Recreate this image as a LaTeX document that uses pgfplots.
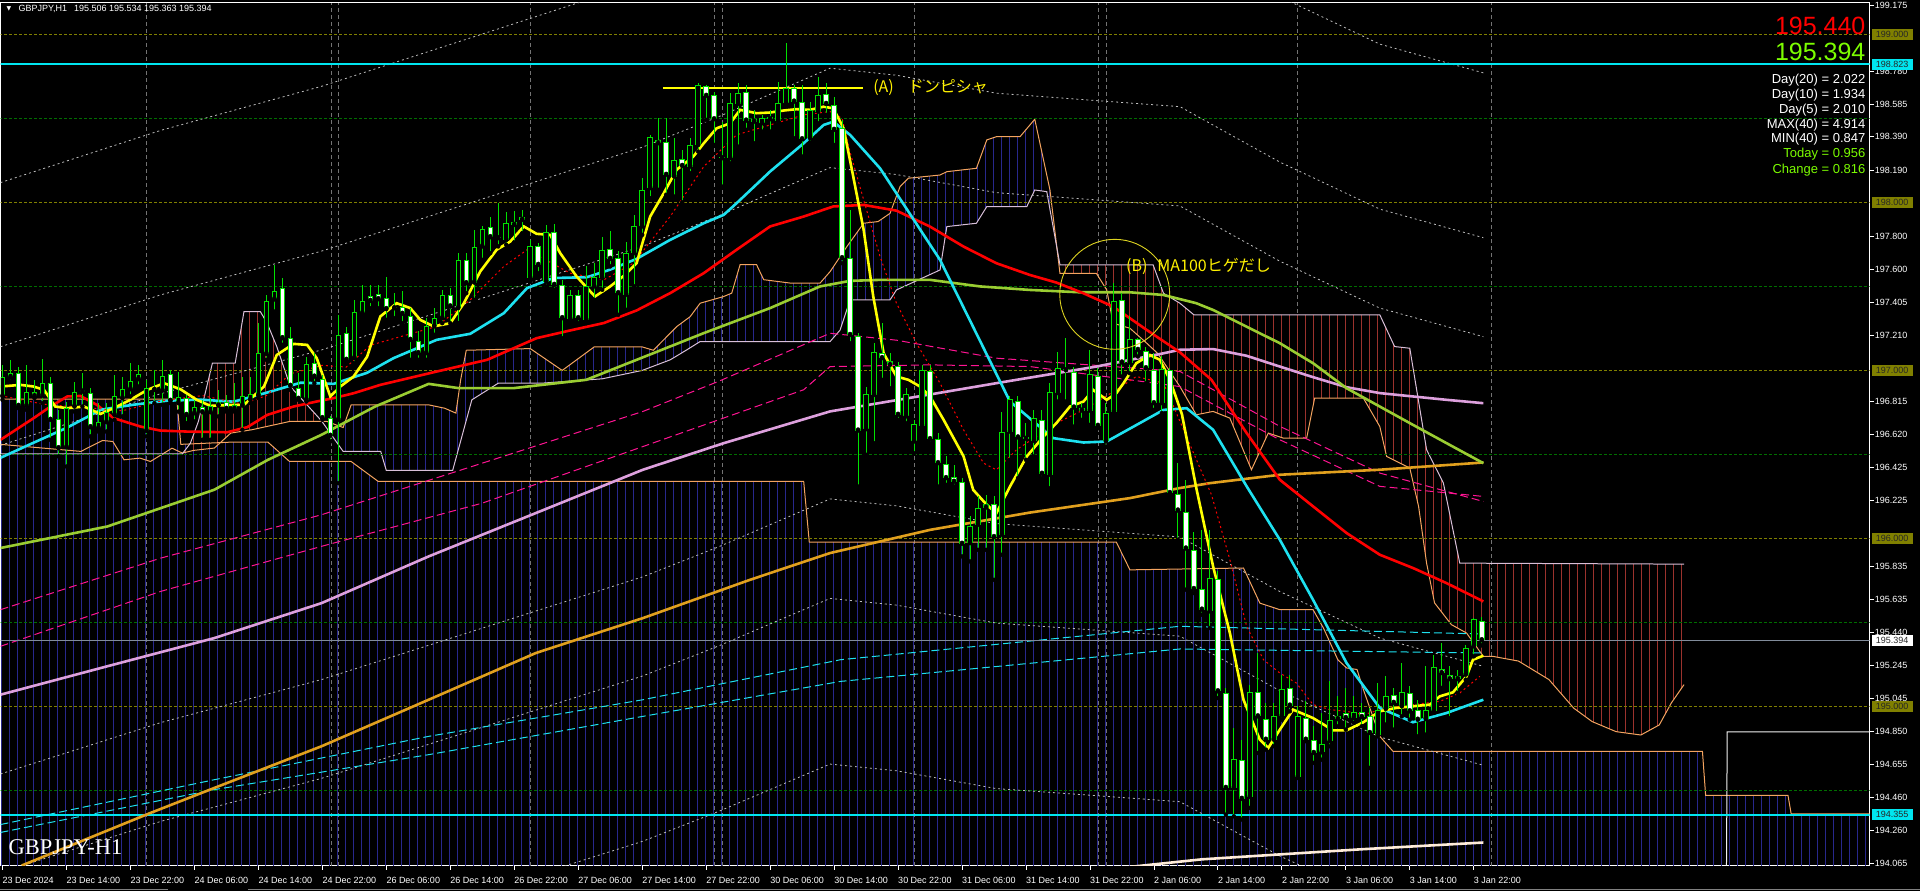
\documentclass[border=0pt]{standalone}
\usepackage{fontspec}
\setmainfont{Liberation Sans}
\newfontfamily\jpfont{Noto Sans CJK JP}
\newfontfamily\seriffont{Liberation Serif}
\newfontfamily\djvfont{DejaVu Sans}
\usepackage{pgfplots}
\usepackage{pgfplotstable}
\pgfplotsset{compat=1.18}
\usetikzlibrary{patterns.meta}

\definecolor{cgreen}{RGB}{0,225,0}
\definecolor{mayellow}{RGB}{255,255,0}
\definecolor{macyan}{RGB}{30,225,240}
\definecolor{mared}{RGB}{255,0,0}
\definecolor{mayg}{RGB}{154,205,50}
\definecolor{maplum}{RGB}{221,160,221}
\definecolor{maorange}{RGB}{225,160,30}
\definecolor{spanA}{RGB}{244,164,96}
\definecolor{spanB}{RGB}{216,191,216}
\definecolor{kumoblue}{RGB}{40,40,140}
\definecolor{kumored}{RGB}{155,50,45}
\definecolor{olivegrid}{RGB}{128,128,0}
\definecolor{greengrid}{RGB}{0,110,0}
\definecolor{lawn}{RGB}{124,252,0}
\definecolor{magdash}{RGB}{255,20,147}
\definecolor{sepgray}{RGB}{115,115,115}
\definecolor{pricegray}{RGB}{130,140,155}
\definecolor{hcyan}{RGB}{0,230,240}
\definecolor{bbgray}{RGB}{190,190,190}

\pgfplotstableread{
i o h l c
0 196.845 197.033 196.825 196.963
1 196.960 197.063 196.934 196.987
2 196.987 197.023 196.775 196.789
3 196.789 197.033 196.765 196.874
4 196.874 196.944 196.835 196.848
5 196.850 197.067 196.805 196.924
6 196.924 196.963 196.587 196.706
7 196.710 196.765 196.488 196.537
8 196.543 196.815 196.428 196.775
9 196.785 196.934 196.755 196.874
10 196.874 196.983 196.785 196.884
11 196.868 196.894 196.607 196.662
12 196.656 196.805 196.636 196.692
13 196.692 196.805 196.636 196.755
14 196.735 196.973 196.706 196.848
15 196.835 196.963 196.726 196.888
16 196.888 197.043 196.845 196.940
17 196.948 197.033 196.904 196.977
18 196.640 196.944 196.607 196.894
19 196.884 197.003 196.805 196.894
20 196.880 197.063 196.795 196.969
21 196.979 197.003 196.805 196.819
22 196.805 196.993 196.755 196.839
23 196.835 196.854 196.686 196.735
24 196.745 196.825 196.696 196.785
25 196.781 196.825 196.587 196.751
26 196.751 196.835 196.587 196.791
27 196.791 196.884 196.726 196.811
28 196.811 196.854 196.755 196.771
29 196.771 196.924 196.755 196.795
30 196.791 196.963 196.646 196.845
31 196.825 196.963 196.805 196.858
32 196.850 197.281 196.835 197.106
33 197.098 197.449 197.063 197.416
34 197.423 197.628 197.350 197.474
35 197.489 197.548 197.152 197.192
36 197.192 197.257 196.884 196.908
37 196.894 196.983 196.825 196.831
38 196.825 197.082 196.815 197.037
39 197.043 197.102 196.924 196.963
40 196.948 196.973 196.706 196.716
41 196.716 196.726 196.577 196.611
42 196.706 197.330 196.329 197.209
43 197.221 197.261 197.053 197.063
44 197.073 197.420 197.043 197.346
45 197.340 197.509 197.320 197.414
46 197.445 197.509 197.370 197.414
47 197.454 197.509 197.370 197.424
48 197.434 197.555 197.301 197.365
49 197.370 197.460 197.311 197.380
50 197.377 197.470 197.281 197.337
51 197.321 197.371 197.063 197.182
52 197.178 197.232 197.063 197.103
53 197.103 197.311 197.063 197.262
54 197.262 197.371 197.212 197.311
55 197.311 197.480 197.281 197.450
56 197.450 197.490 197.281 197.381
57 197.371 197.698 197.282 197.658
58 197.658 197.698 197.460 197.519
59 197.523 197.837 197.420 197.733
60 197.738 197.857 197.658 197.841
61 197.853 197.916 197.698 197.793
62 197.787 197.999 197.738 197.790
63 197.777 197.940 197.748 197.876
64 197.866 197.946 197.761 197.886
65 197.896 197.956 197.817 197.912
66 197.549 197.777 197.529 197.738
67 197.742 197.757 197.579 197.628
68 197.529 197.866 197.500 197.821
69 197.821 197.872 197.480 197.509
70 197.509 197.539 197.192 197.311
71 197.305 197.480 197.291 197.450
72 197.450 197.480 197.282 197.311
73 197.301 197.619 197.282 197.500
74 197.500 197.638 197.420 197.559
75 197.549 197.797 197.480 197.718
76 197.722 197.827 197.619 197.664
77 197.668 197.708 197.331 197.460
78 197.450 197.767 197.361 197.698
79 197.698 197.926 197.500 197.861
80 197.857 198.144 197.807 198.075
81 198.085 198.402 198.025 198.392
82 198.372 198.501 198.075 198.352
83 198.362 198.501 198.045 198.164
84 198.154 198.382 198.035 198.253
85 198.257 198.313 198.000 198.217
86 198.213 198.382 198.174 198.342
87 198.342 198.709 198.303 198.699
88 198.693 198.699 198.491 198.634
89 198.640 198.660 198.342 198.495
90 198.263 198.481 198.094 198.273
91 198.263 198.650 198.233 198.590
92 198.586 198.709 198.332 198.650
93 198.660 198.699 198.432 198.487
94 198.481 198.551 198.352 198.495
95 198.471 198.521 198.422 198.501
96 198.495 198.551 198.422 198.507
97 198.487 198.719 198.471 198.594
98 198.590 198.950 198.580 198.679
99 198.679 198.699 198.382 198.600
100 198.600 198.699 198.273 198.376
101 198.382 198.600 198.356 198.551
102 198.540 198.749 198.471 198.640
103 198.646 198.709 198.521 198.586
104 198.580 198.630 198.342 198.432
105 198.442 198.491 197.638 197.668
106 197.668 197.955 197.162 197.211
107 197.202 197.221 196.309 196.642
108 196.650 196.904 196.498 196.860
109 196.854 197.162 196.567 197.112
110 197.102 197.281 196.944 197.073
111 197.059 197.102 196.894 197.033
112 197.027 197.053 196.706 196.736
113 196.726 196.894 196.686 196.860
114 196.577 196.706 196.507 196.682
115 196.670 197.033 196.666 197.003
116 196.997 197.033 196.567 196.591
117 196.591 196.626 196.309 196.448
118 196.442 196.488 196.319 196.359
119 196.365 196.438 196.309 196.337
120 196.333 196.359 195.893 195.968
121 195.972 196.131 195.863 196.075
122 196.081 196.250 195.932 196.180
123 196.204 196.260 195.932 196.184
124 196.206 196.250 195.754 196.008
125 196.022 196.755 195.903 196.636
126 196.636 196.845 196.468 196.829
127 196.821 196.845 196.359 196.601
128 196.603 196.686 196.468 196.593
129 196.581 196.765 196.488 196.716
130 196.702 196.765 196.359 196.385
131 196.379 196.924 196.299 196.874
132 196.865 197.112 196.815 197.013
133 197.001 197.192 196.815 197.003
134 196.993 197.023 196.666 196.779
135 196.775 196.805 196.706 196.761
136 196.761 197.122 196.676 196.977
137 196.968 197.013 196.656 196.670
138 196.577 196.805 196.547 196.745
139 196.755 197.519 196.736 197.416
140 197.420 197.460 196.964 197.047
141 197.047 197.321 196.983 197.186
142 197.186 197.192 197.083 197.122
143 197.116 197.142 196.924 197.013
144 197.003 197.102 196.765 196.805
145 196.805 197.083 196.746 197.007
146 197.003 197.013 196.260 196.270
147 196.266 196.448 195.992 196.166
148 196.160 196.349 195.695 195.940
149 195.933 196.041 195.675 195.699
150 195.699 196.052 195.546 195.576
151 195.566 196.052 195.467 195.764
152 195.758 195.804 195.050 195.090
153 195.080 195.110 194.356 194.515
154 194.515 194.872 194.346 194.688
155 194.684 194.802 194.327 194.450
156 194.461 195.130 194.396 195.084
157 195.084 195.318 194.723 194.941
158 194.926 195.021 194.743 194.802
159 194.802 195.021 194.763 194.941
160 194.945 195.189 194.921 195.104
161 195.110 195.189 194.971 195.005
162 194.580 195.001 194.574 194.941
163 194.931 195.030 194.793 194.802
164 194.802 194.882 194.664 194.723
165 194.727 194.961 194.683 194.779
166 194.793 195.149 194.763 194.917
167 194.925 195.060 194.882 194.945
168 194.961 195.110 194.862 194.931
169 194.931 195.060 194.902 194.965
170 194.965 195.021 194.882 194.937
171 194.941 194.991 194.634 194.842
172 194.832 195.140 194.822 194.977
173 194.985 195.179 194.892 195.064
174 195.070 195.110 194.862 195.021
175 195.001 195.258 194.941 195.084
176 195.080 195.120 194.921 194.971
177 194.977 195.040 194.822 194.921
178 194.925 195.239 194.832 194.977
179 194.971 195.308 194.961 195.235
180 195.223 195.377 195.110 195.199
181 195.189 195.239 194.931 195.163
182 195.163 195.219 195.080 195.183
183 195.189 195.368 195.159 195.348
184 195.358 195.526 195.298 195.520
185 195.506 195.534 195.363 195.394
}\candles

\pgfplotsset{
  candleeb/.style={only marks, mark=none, forget plot},
  bb/.style={bbgray, line width=0.8pt, dash pattern=on 2pt off 3pt, forget plot},
  ma/.style={line width=2.6pt, forget plot},
  bluestripes/.style={draw=none, forget plot, pattern={Lines[angle=90,distance=8pt,line width=1pt,xshift=2pt]}, pattern color=kumoblue},
  redstripes/.style={draw=none, forget plot, pattern={Lines[angle=90,distance=8pt,line width=1pt,xshift=2pt]}, pattern color=kumored},
}
\tikzset{pbox/.style={anchor=west, xshift=2pt, inner sep=0pt, minimum width=41pt, minimum height=11pt, font=\fontsize{9}{10}\selectfont, text=black!85}}

\begin{document}
\begin{tikzpicture}[x=1pt,y=1pt]
\fill[black] (0,0) rectangle (1920,891);
\begin{axis}[
  at={(0pt,25pt)}, anchor=south west,
  scale only axis, width=1870pt, height=863pt,
  xmin=-0.25, xmax=233.5, ymin=194.053, ymax=199.187,
  clip mode=individual,
  axis background/.style={fill=black},
  axis line style={white, line width=1pt},
  tick align=outside, major tick length=4pt,
  tick style={white, line width=0.8pt},
  xtick pos=bottom, ytick pos=right, yticklabel pos=right,
  xtick={0,8,...,184},
  xticklabels={23 Dec 2024, 23 Dec 14:00, 23 Dec 22:00, 24 Dec 06:00, 24 Dec 14:00, 24 Dec 22:00, 26 Dec 06:00, 26 Dec 14:00, 26 Dec 22:00, 27 Dec 06:00, 27 Dec 14:00, 27 Dec 22:00, 30 Dec 06:00, 30 Dec 14:00, 30 Dec 22:00, 31 Dec 06:00, 31 Dec 14:00, 31 Dec 22:00, 2 Jan 06:00, 2 Jan 14:00, 2 Jan 22:00, 3 Jan 06:00, 3 Jan 14:00, 3 Jan 22:00},
  xticklabel style={white, font=\fontsize{9}{10}\selectfont, anchor=north west, inner sep=0pt, xshift=0pt, yshift=-7pt},
  ytick={194.065,194.260,194.460,194.655,194.850,195.045,195.245,195.440,195.635,195.835,196.225,196.425,196.620,196.815,197.210,197.405,197.600,197.800,198.190,198.390,198.585,198.780,199.175},
  yticklabel style={white, font=\fontsize{9}{10}\selectfont, anchor=west, inner sep=0pt, xshift=1pt, /pgf/number format/.cd, fixed, fixed zerofill, precision=3, assume math mode=true},
  extra x ticks={18,41.15,42,66,89,90,114,137,138,162,186.25},
  extra x tick labels={},
  extra x tick style={grid=major, major grid style={sepgray, line width=0.7pt, dash pattern=on 4pt off 3pt}, major tick length=0pt},
  unbounded coords=jump,
]
% deep cloud (blue stripes to bottom)
\addplot[bluestripes] coordinates {
(-0.25,196.829) (21.8,196.829) (22.3,196.56) (28.5,196.573) (33.2,196.573) (35.9,196.458) (43.6,196.458) (47,196.339) (100.2,196.339) (100.9,195.978) (139.3,195.978) (141,195.813) (155.2,195.824) (157.25,195.615) (159.75,195.576) (163.9,195.576) (165.2,195.467) (167,195.278) (168.1,195.229) (169.4,195.22) (170.2,195.1) (172.25,194.822) (173.9,194.733) (212.6,194.733) (213,194.47) (223.3,194.47) (223.7,194.36) (233.5,194.36) (233.5,193.9) (-0.25,193.9)};
% near cloud: red (left)
\addplot[redstripes] coordinates {
(22.5,196.504) (23.5,196.567) (24.5,196.696) (26.25,197.043) (29.1,197.043) (30.2,197.35) (32.25,197.35) (33.1,197.281) (34.3,197.142) (36,196.904) (39.9,196.70)
(35.9,196.696) (31.2,196.647) (28.55,196.627) (26.5,196.538) (23.9,196.524) (22.5,196.508)};
% near cloud: blue (middle)
\addplot[bluestripes] coordinates {
(40,196.696) (40.6,196.696) (42.6,196.66) (43.6,196.795) (53.3,196.795) (55.3,196.775) (56.7,196.746) (57.3,196.944) (58,197.12) (66,197.13) (70,197.00) (74,197.14) (80,197.14) (81.4,197.12) (84.3,197.26) (86,197.32) (87.25,197.40) (90.2,197.44) (91.2,197.46) (92.25,197.63) (94.3,197.63) (95.2,197.54) (98.5,197.52) (102.25,197.52) (103.5,197.588) (105.6,197.737) (107.7,197.876) (109.5,197.886) (111,197.935) (112.25,198.094) (113.3,198.144) (117.25,198.163) (118.1,198.183) (121.8,198.203) (123.1,198.372) (124.3,198.391) (127.25,198.391) (129.1,198.495) (131,198.074) (131.9,197.70)
(130.6,198.064) (129.1,198.074) (128.1,197.975) (123.1,197.975) (121.8,197.876) (118.1,197.856) (117.25,197.598) (111.8,197.479) (111,197.42) (106,197.42) (104.75,197.24) (103.5,197.172) (87.25,197.172) (85.6,197.123) (83.5,197.063) (80,197.0) (75,196.95) (67.4,196.924) (62,196.924) (58.7,196.825) (56.3,196.405) (48,196.405) (47.3,196.518) (42.6,196.518) (40,196.69)};
% near cloud: red (right)
\addplot[redstripes] coordinates {
(132,197.694) (132.25,197.628) (143.9,197.628) (145.2,197.459) (147.25,197.40) (149,197.331) (172.25,197.331) (174.1,197.142) (176,197.132) (178.1,196.528) (180.2,196.33) (182.25,195.853) (210.3,195.847)
(210.3,195.13) (208.7,195.02) (207.2,194.89) (204.9,194.83) (201.8,194.85) (198.8,194.91) (196.5,194.99) (193.4,195.16) (189.6,195.27) (186.4,195.298) (185.2,195.298) (183.1,195.437) (181.2,195.487) (179.1,195.616) (178.1,195.853) (177.1,196.191) (176,196.419) (173.1,196.488) (172.25,196.666) (170.2,196.835) (164.1,196.835) (163.1,196.597) (160.2,196.597) (158.3,196.627) (156.2,196.409) (153.5,196.716) (151.4,196.756) (149.3,196.736) (147.25,196.904) (144.5,197.10) (143.1,197.162) (141,197.251) (138.9,197.281) (138.1,197.479) (136.8,197.578) (132.25,197.578) (132,197.677)};
% span lines
\addplot[spanA, line width=1pt, forget plot] coordinates {
(-0.25,196.829) (21.8,196.829) (22.3,196.56) (28.5,196.573) (33.2,196.573) (35.9,196.458) (43.6,196.458) (47,196.339) (100.2,196.339) (100.9,195.978) (139.3,195.978) (141,195.813) (155.2,195.824) (157.25,195.615) (159.75,195.576) (163.9,195.576) (165.2,195.467) (167,195.278) (168.1,195.229) (169.4,195.22) (170.2,195.1) (172.25,194.822) (173.9,194.733) (212.6,194.733) (213,194.47) (223.3,194.47) (223.7,194.36) (233.5,194.36)};
\addplot[white!90!gray, line width=1pt, forget plot] coordinates {(215.6,194.0) (215.7,194.849) (233.5,194.849)};
\addplot[spanA, line width=1pt, forget plot] coordinates {
(-0.25,196.56) (9.8,196.518) (12.5,196.583) (13.8,196.577) (15.2,196.468) (17.2,196.478) (18.5,196.458) (21.2,196.537) (22.5,196.508) (23.9,196.524) (26.5,196.538) (28.55,196.627) (31.2,196.647) (35.9,196.696) (40.6,196.696) (42.6,196.66) (43.6,196.795) (53.3,196.795) (55.3,196.775) (56.7,196.746) (57.3,196.944) (58,197.12) (66,197.13) (70,197.00) (74,197.14) (80,197.14) (81.4,197.12) (84.3,197.26) (86,197.32) (87.25,197.40) (90.2,197.44) (91.2,197.46) (92.25,197.63) (94.3,197.63) (95.2,197.54) (98.5,197.52) (102.25,197.52) (103.5,197.588) (105.6,197.737) (107.7,197.876) (109.5,197.886) (111,197.935) (112.25,198.094) (113.3,198.144) (117.25,198.163) (118.1,198.183) (121.8,198.203) (123.1,198.372) (124.3,198.391) (127.25,198.391) (129.1,198.495) (131,198.074) (132.25,197.578) (136.8,197.578) (138.1,197.479) (138.9,197.281) (141,197.251) (143.1,197.162) (144.5,197.10) (147.25,196.904) (149.3,196.736) (151.4,196.756) (153.5,196.716) (156.2,196.409) (158.3,196.627) (160.2,196.597) (163.1,196.597) (164.1,196.835) (170.2,196.835) (172.25,196.666) (173.1,196.488) (176,196.419) (177.1,196.191) (178.1,195.853) (179.1,195.616) (181.2,195.487) (183.1,195.437) (185.2,195.298) (186.4,195.298) (189.6,195.27) (193.4,195.16) (196.5,194.99) (198.8,194.91) (201.8,194.85) (204.9,194.83) (207.2,194.89) (208.7,195.02) (210.3,195.13)};
\addplot[spanB, line width=1pt, forget plot] coordinates {
(-0.25,196.504) (22.5,196.504) (23.5,196.567) (24.5,196.696) (26.25,197.043) (29.1,197.043) (30.2,197.35) (32.25,197.35) (33.1,197.281) (34.3,197.142) (36,196.904) (39.9,196.70) (42.6,196.518) (47.3,196.518) (48,196.405) (56.3,196.405) (58.7,196.825) (62,196.924) (67.4,196.924) (75,196.95) (80,197.0) (83.5,197.063) (85.6,197.123) (87.25,197.172) (103.5,197.172) (104.75,197.24) (106,197.42) (111,197.42) (111.8,197.479) (117.25,197.598) (118.1,197.856) (121.8,197.876) (123.1,197.975) (128.1,197.975) (129.1,198.074) (130.6,198.064) (132.25,197.628) (143.9,197.628) (145.2,197.459) (147.25,197.40) (149,197.331) (172.25,197.331) (174.1,197.142) (176,197.132) (178.1,196.528) (180.2,196.33) (182.25,195.853) (210.3,195.847)};
% grid levels
\addplot[olivegrid, line width=0.8pt, dash pattern=on 3pt off 2pt, forget plot] coordinates {(-1,199)(240,199) (120,nan) (-1,198)(240,198) (120,nan) (-1,197)(240,197) (120,nan) (-1,196)(240,196) (120,nan) (-1,195)(240,195)};
\addplot[greengrid, line width=0.8pt, dash pattern=on 3pt off 2pt, forget plot] coordinates {(-1,198.5)(240,198.5) (120,nan) (-1,197.5)(240,197.5) (120,nan) (-1,196.5)(240,196.5) (120,nan) (-1,195.5)(240,195.5) (120,nan) (-1,194.5)(240,194.5)};
% envelope bands (dotted)
\addplot[bb] coordinates {(-0.25,196.554) (19.8,196.862) (39.9,197.122) (60,197.430) (80.1,197.740) (89.5,197.919) (103.5,198.207) (111.8,198.166) (124.3,198.058) (136.8,198.015) (147.25,197.979) (159.75,197.650) (172.25,197.371) (185.2,197.201)};
\addplot[bb] coordinates {(-0.25,194.598) (19.8,194.904) (39.9,195.160) (60,195.466) (80.1,195.772) (89.5,195.949) (103.5,196.235) (111.8,196.194) (124.3,196.088) (136.8,196.045) (147.25,196.009) (159.75,195.684) (172.25,195.407) (185.2,195.239)};
\addplot[bb] coordinates {(-0.25,197.141) (19.8,197.450) (39.9,197.710) (60,198.020) (80.1,198.330) (89.5,198.509) (103.5,198.799) (111.8,198.757) (124.3,198.650) (136.8,198.606) (147.25,198.570) (159.75,198.240) (172.25,197.960) (185.2,197.790)};
\addplot[bb] coordinates {(-0.25,194.011) (19.8,194.316) (39.9,194.572) (60,194.876) (80.1,195.182) (89.5,195.359) (103.5,195.643) (111.8,195.603) (124.3,195.496) (136.8,195.454) (147.25,195.418) (159.75,195.094) (172.25,194.818) (185.2,194.650)};
\addplot[bb] coordinates {(-0.25,198.118) (19.8,198.429) (39.9,198.691) (60,199.002) (80.1,199.314) (89.5,199.494) (103.5,199.785) (111.8,199.743) (124.3,199.635) (136.8,199.591) (147.25,199.555) (159.75,199.224) (172.25,198.942) (185.2,198.771)};
\addplot[bb] coordinates {(39.9,193.591) (60,193.894) (80.1,194.198) (89.5,194.374) (103.5,194.657) (111.8,194.617) (124.3,194.511) (136.8,194.469) (147.25,194.433) (159.75,194.110) (172.25,193.836) (185.2,193.669)};
% magenta dashed
\addplot[magdash, line width=1pt, dash pattern=on 8pt off 4pt, forget plot] coordinates {(-0.25,195.576) (19.8,195.883) (39.9,196.141) (60,196.448) (80.1,196.756) (89.5,196.934) (103.5,197.221) (111.8,197.18) (124.3,197.073) (136.8,197.03) (147.25,196.994) (159.75,196.667) (172.25,196.389) (185.2,196.22)};
\addplot[magdash, line width=1pt, dash pattern=on 8pt off 4pt, forget plot] coordinates {(-0.25,195.358) (19.8,195.685) (39.9,195.953) (60,196.21) (80.1,196.547) (100.2,196.885) (103.5,197.023) (116,197.033) (128.5,197.023) (141,196.944) (147.25,196.904) (159.75,196.587) (172.25,196.31) (185.2,196.25)};
% cyan dashed
\addplot[macyan, line width=1pt, dash pattern=on 8pt off 4pt, forget plot] coordinates {(-0.25,194.297) (26.5,194.564) (53.3,194.822) (80.1,195.04) (104.8,195.278) (147.25,195.477) (185.2,195.431)};
\addplot[macyan, line width=1pt, dash pattern=on 8pt off 4pt, forget plot] coordinates {(-0.25,194.25) (26.5,194.505) (53.3,194.713) (80.1,194.941) (104.8,195.149) (147.25,195.342) (185.2,195.318)};
% horizontal lines
\addplot[hcyan, line width=2pt, forget plot] coordinates {(-1,198.823)(240,198.823)};
\addplot[hcyan, line width=2pt, forget plot] coordinates {(-1,194.355)(240,194.355)};
\addplot[pricegray, line width=1pt, forget plot] coordinates {(-1,195.394)(240,195.394)};
% long MAs
\addplot[ma, white!85!orange] coordinates {(138,194.03) (150,194.09) (160,194.12) (170,194.15) (185.2,194.19)};
\addplot[ma, maorange] coordinates {(2.4,194.053) (18.5,194.366) (26.5,194.515) (39.9,194.763) (53.3,195.04) (66.7,195.318) (80.1,195.526) (93.5,195.754) (103.5,195.913) (116,196.051) (128.5,196.154) (141,196.24) (147.25,196.30) (151,196.329) (159.75,196.379) (172.25,196.409) (185.2,196.452)};
\addplot[ma, maplum] coordinates {(-0.25,195.07) (13.1,195.239) (26.5,195.407) (39.9,195.615) (53.3,195.893) (66.7,196.151) (80.1,196.409) (90.2,196.567) (103.5,196.756) (124.3,196.924) (136.8,197.023) (145.2,197.102) (147.25,197.123) (151.4,197.127) (155.6,197.087) (159.75,197.023) (163.9,196.96) (168.1,196.9) (172.25,196.865) (176.4,196.845) (180.6,196.825) (185.2,196.805)};
\addplot[ma, mayg] coordinates {(-0.25,195.943) (13.1,196.071) (26.5,196.29) (33.2,196.468) (39.9,196.617) (46.6,196.785) (53.3,196.92) (57,196.895) (64,196.895) (73,196.944) (79.3,197.063) (87.7,197.222) (96,197.371) (102.25,197.5) (106,197.533) (109.75,197.539) (116,197.539) (122.25,197.50) (128.5,197.479) (134.75,197.465) (141,197.465) (145.2,197.449) (149.3,197.40) (151.4,197.36) (155.6,197.26) (159.75,197.162) (163.9,197.043) (168.1,196.894) (172.25,196.785) (176.4,196.676) (180.6,196.567) (185.2,196.448)};
\addplot[ma, mared] coordinates {(-0.25,196.587) (3.9,196.716) (6,196.785) (8.1,196.845) (9.75,196.848) (11.8,196.795) (13.9,196.716) (17.25,196.666) (19.75,196.642) (23.1,196.636) (28.1,196.632) (30.6,196.662) (33.1,196.735) (36.4,196.785) (39.3,196.815) (41.4,196.835) (43.9,196.864) (47.25,196.914) (54,196.99) (60.6,197.063) (66.8,197.192) (71,197.238) (75.2,197.282) (79.3,197.357) (83.5,197.46) (87.7,197.579) (91.8,197.718) (96,197.857) (100.2,197.916) (103.9,197.976) (107.7,197.985) (111.8,197.951) (116,197.856) (120.2,197.737) (124.3,197.638) (128.5,197.568) (131.8,197.523) (135.2,197.459) (138.9,197.38) (143.1,197.241) (147.25,197.108) (151.2,196.944) (155.6,196.627) (159.75,196.349) (163.9,196.191) (168.1,196.032) (172.25,195.903) (176.4,195.824) (180.6,195.734) (185.2,195.625)};
\addplot[ma, macyan] coordinates {(-0.25,196.48) (3.9,196.57) (8.1,196.66) (12.3,196.766) (16.4,196.796) (20.6,196.82) (24.7,196.826) (28.9,196.814) (33,196.867) (37.3,196.927) (41.4,196.92) (45.6,196.986) (48.9,197.073) (54.3,197.182) (58.5,197.218) (62.7,197.341) (65.6,197.49) (68.9,197.55) (73.1,197.555) (76,197.6) (79.3,197.664) (83.5,197.777) (87.7,197.876) (90.2,197.926) (91.8,197.995) (96,198.184) (100.2,198.352) (102.7,198.461) (103.9,198.48) (106,198.402) (109.75,198.203) (117.25,197.658) (126,196.815) (131.4,196.597) (135.2,196.571) (138.1,196.577) (145.2,196.765) (148.1,196.775) (151.4,196.647) (155.6,196.31) (159.75,195.992) (163.9,195.635) (168.1,195.258) (172.25,194.991) (176.4,194.906) (180.6,194.961) (185.2,195.04)};
\addplot[mared, line width=1pt, dash pattern=on 2pt off 3pt, forget plot] coordinates {(-0.25,196.85) (5,196.80) (10,196.78) (15,196.76) (20,196.82) (25,196.85) (30,196.80) (33,196.85) (36,196.98) (40,197.03) (43,197.02) (46,197.15) (54.3,197.262) (58.5,197.42) (62.7,197.619) (65.6,197.718) (71,197.579) (75.2,197.539) (78.9,197.638) (83.5,197.916) (87.7,198.213) (91.8,198.402) (96,198.461) (100.2,198.521) (103.5,198.541) (105,198.50) (106,198.30) (107.7,198.015) (109.75,197.678) (111.8,197.40) (114.3,197.162) (117.25,196.924) (120.2,196.646) (122.7,196.448) (124.3,196.408) (126.8,196.527) (129.3,196.607) (131.8,196.686) (135.2,196.765) (139.3,196.884) (141.8,196.964) (145.2,196.924) (147.5,196.67) (151.2,196.26) (153.5,195.873) (155.6,195.477) (157.7,195.278) (159.75,195.199) (161.8,195.14) (163.9,195.011) (166,194.981) (168.1,194.971) (170.2,194.951) (173.1,194.991) (176.4,195.011) (179.75,195.03) (182.25,195.08) (184.75,195.179)};
\addplot[ma, mayellow] coordinates {(-0.25,196.904) (2.25,196.914) (3.9,196.904) (5.2,196.884) (6.6,196.785) (8.1,196.775) (10.2,196.785) (12.25,196.741) (13.9,196.775) (16,196.825) (18.1,196.884) (20.2,196.924) (22.25,196.888) (24.3,196.825) (26,196.789) (28.5,196.795) (30.2,196.795) (32.7,196.904) (34.3,197.092) (36.4,197.158) (38.1,197.152) (39.3,197.073) (41,196.845) (42.25,196.904) (43.9,196.963) (45.6,197.082) (47.25,197.321) (49.3,197.400) (51,197.371) (52.25,197.301) (53.9,197.262) (56,197.281) (57.7,197.400) (59.75,197.589) (61.8,197.718) (63.5,197.767) (65.2,197.857) (66.8,197.813) (68.5,197.807) (69.75,197.698) (71.8,197.559) (74.1,197.440) (76,197.500) (77.7,197.563) (79.3,197.638) (81,197.916) (82.7,198.055) (84.3,198.194) (86.4,198.273) (87.7,198.352) (89.3,198.441) (91,198.471) (92.25,198.551) (94.3,198.531) (96,198.535) (97.7,198.547) (99.3,198.555) (101,198.551) (102.7,198.570) (103.9,198.560) (105.2,198.440) (106.4,198.153) (107.7,197.836) (108.9,197.440) (110.2,197.102) (111.8,196.964) (113.3,196.944) (114.75,196.904) (116,196.845) (117.7,196.706) (120.2,196.488) (121.4,196.289) (123.1,196.200) (124.3,196.150) (126,196.309) (128.1,196.488) (130.2,196.607) (131.8,196.686) (133.5,196.785) (135.2,196.815) (136.4,196.884) (138.1,196.825) (139.3,196.864) (140.2,196.924) (141.8,197.043) (143.5,197.092) (144.75,197.063) (146,196.944) (147.5,196.74) (149.3,196.30) (151.4,195.834) (153.5,195.437) (155.2,195.040) (157.25,194.802) (158.3,194.753) (159.75,194.862) (161.4,194.981) (163.9,194.931) (166.4,194.858) (168.1,194.858) (170.2,194.906) (172.25,194.971) (174.3,194.991) (176.4,195.001) (178.5,195.011) (179.75,195.060) (181.4,195.084) (183.1,195.179) (183.9,195.278) (185.2,195.302)};
% annotation A line
\addplot[mayellow, line width=1.3pt, forget plot] coordinates {(82.6,198.681) (107.6,198.681)};
% candles
\addplot[candleeb, error bars/.cd, y dir=plus, y explicit, error mark=none, error bar style={cgreen, line width=1pt}] table[x=i, y=l, y error plus expr={\thisrow{h}-\thisrow{l}}] {\candles};
\addplot[candleeb, error bars/.cd, y dir=plus, y explicit, error mark=none, error bar style={cgreen, line width=5.5pt}] table[x=i, y expr={min(\thisrow{o},\thisrow{c})}, y error plus expr={max(abs(\thisrow{c}-\thisrow{o}),0.006)}] {\candles};
\addplot[candleeb, restrict expr to domain={\thisrow{c}-\thisrow{o}}{0:10}, error bars/.cd, y dir=plus, y explicit, error mark=none, error bar style={black, line width=3.5pt}] table[x=i, y expr={\thisrow{o}+0.00595}, y error plus expr={max(\thisrow{c}-\thisrow{o}-0.0119,0)}] {\candles};
\addplot[candleeb, restrict expr to domain={\thisrow{c}-\thisrow{o}}{-10:-0.0000001}, error bars/.cd, y dir=plus, y explicit, error mark=none, error bar style={white, line width=3.5pt}] table[x=i, y expr={\thisrow{c}+0.00595}, y error plus expr={max(\thisrow{o}-\thisrow{c}-0.0119,0)}] {\candles};
% circle B
\draw[yellow!85!black, line width=0.9pt] (axis cs:139.1,197.453) circle[radius=55pt];
% price boxes
\node[pbox, fill=olivegrid] at (axis cs:233.5,199.0) {199.000};
\node[pbox, fill=hcyan] at (axis cs:233.5,198.823) {198.823};
\node[pbox, fill=olivegrid] at (axis cs:233.5,198.0) {198.000};
\node[pbox, fill=olivegrid] at (axis cs:233.5,197.0) {197.000};
\node[pbox, fill=olivegrid] at (axis cs:233.5,196.0) {196.000};
\node[pbox, fill=white] at (axis cs:233.5,195.394) {195.394};
\node[pbox, fill=olivegrid] at (axis cs:233.5,195.0) {195.000};
\node[pbox, fill=hcyan] at (axis cs:233.5,194.355) {194.355};
\end{axis}
% texts
\node[anchor=west, inner sep=0pt, text=white] at (6,882) {\djvfont\fontsize{6}{6}\selectfont ▼};
\node[anchor=west, inner sep=0pt, text=white, font=\fontsize{9}{10}\selectfont] at (18,882) {GBPJPY,H1\hspace{7pt}195.506 195.534 195.363 195.394};
\node[anchor=east, inner sep=0pt, text=red, font=\fontsize{25}{25}\selectfont] at (1866,865.5) {195.440};
\node[anchor=east, inner sep=0pt, text=lawn, font=\fontsize{25}{25}\selectfont] at (1866,839) {195.394};
\begin{scope}[every node/.style={anchor=east, inner sep=0pt, font=\fontsize{13}{14}\selectfont}]
\node[text=white] at (1866,811) {Day(20) = 2.022};
\node[text=white] at (1866,796) {Day(10) = 1.934};
\node[text=white] at (1866,781) {Day(5) = 2.010};
\node[text=white] at (1866,766) {MAX(40) = 4.914};
\node[text=white] at (1866,751.5) {MIN(40) = 0.847};
\node[text=lawn] at (1866,736.5) {Today = 0.956};
\node[text=lawn] at (1866,721) {Change = 0.816};
\end{scope}
\node[anchor=west, inner sep=0pt, text=yellow, font=\jpfont\fontsize{16}{16}\selectfont] at (873,803) {(A)\hspace{14pt}ドンピシャ};
\node[anchor=west, inner sep=0pt, text=yellow, font=\jpfont\fontsize{16}{16}\selectfont] at (1126,624) {(B)\hspace{10pt}MA100ヒゲだし};
\node[anchor=base west, inner sep=0pt, text=white, font=\seriffont\fontsize{22.5}{22.5}\selectfont] at (8,36) {GBPJPY-H1};
\draw[gray, line width=1pt] (0,1) -- (168,1) (248,1) -- (1920,1);
\end{tikzpicture}
\end{document}
